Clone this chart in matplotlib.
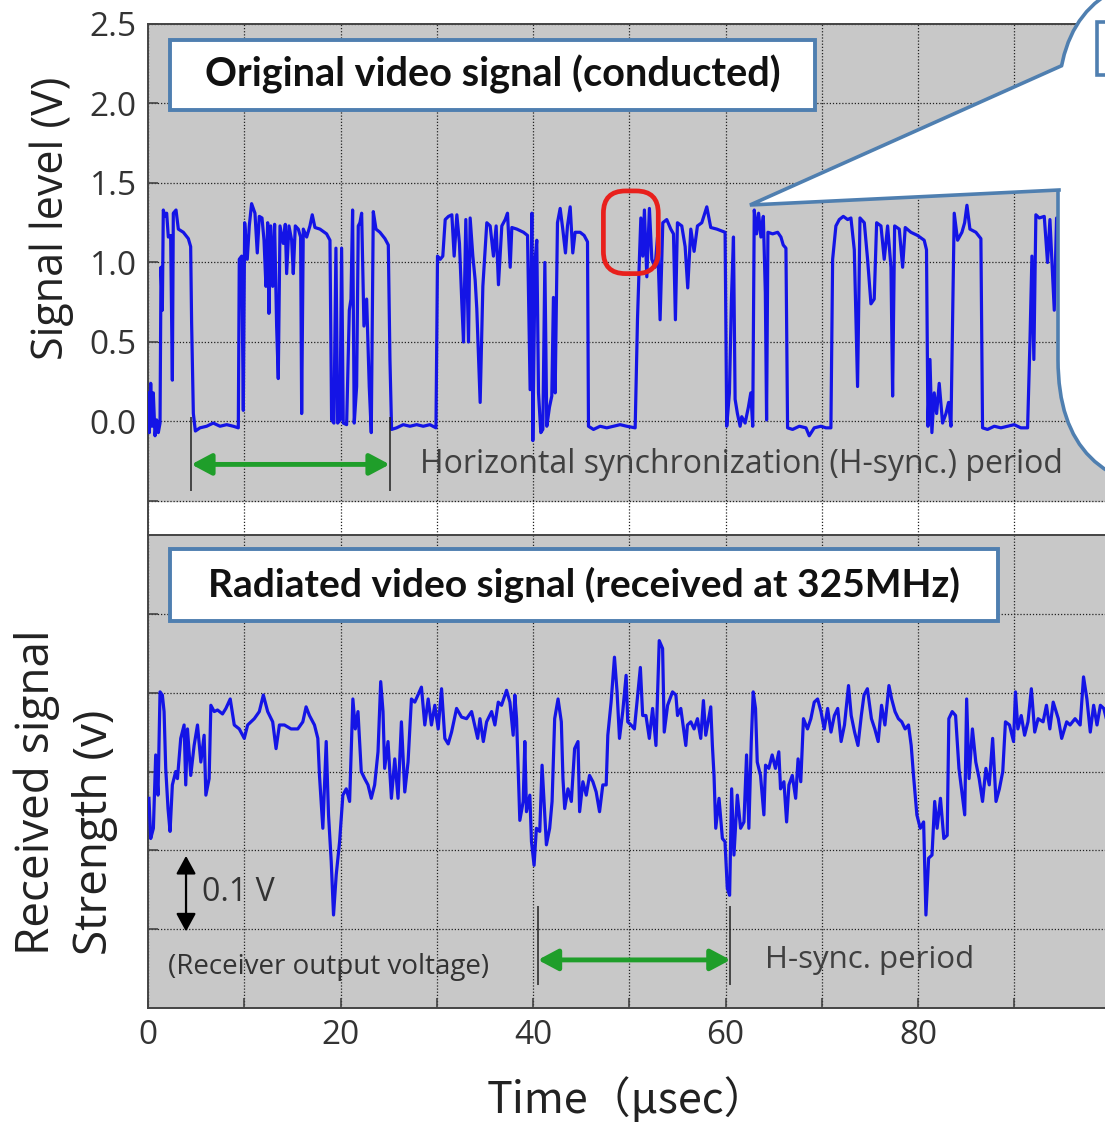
"""Conducted vs radiated video signal (H-sync period) - two stacked panels."""
import matplotlib
matplotlib.use("Agg")
import matplotlib.pyplot as plt
from matplotlib.patches import Rectangle, FancyBboxPatch, Polygon
from matplotlib.lines import Line2D

W, H = 1105, 1127

# ---- data (time in usec) ----
TOP_T = [0.03, 0.14, 0.28, 0.42, 0.55, 0.73, 0.90, 1.07, 1.25, 1.35, 1.49, 1.59, 1.77, 1.94,
         2.11, 2.35, 2.53, 2.63, 2.91, 3.15, 3.67, 4.19, 4.43, 4.53, 4.71, 4.92, 5.40, 6.09,
         6.78, 7.48, 8.17, 8.86, 9.38, 9.48, 9.73, 9.90, 10.04, 10.31, 10.52, 10.76, 11.11,
         11.35, 11.56, 11.84, 12.05, 12.25, 12.43, 12.56, 12.74, 12.95, 13.15, 13.36, 13.53,
         13.71, 14.05, 14.26, 14.40, 14.64, 14.92, 15.09, 15.30, 15.61, 15.85, 15.96, 16.13,
         16.48, 16.82, 17.06, 17.34, 17.86, 18.55, 18.90, 19.07, 19.31, 19.52, 19.70, 19.94,
         20.11, 20.28, 20.63, 20.91, 21.08, 21.25, 21.42, 21.67, 21.84, 22.01, 22.19, 22.43,
         22.71, 22.98, 23.19, 23.40, 23.68, 24.09, 24.61, 24.96, 25.13, 25.30, 25.82, 26.51,
         27.21, 27.90, 28.59, 29.28, 29.91,
         30.07, 30.35, 30.62, 30.87, 31.21, 31.56, 31.80, 32.08, 32.35, 32.60, 32.77, 33.01,
         33.29, 33.46, 33.74, 33.98, 34.15, 34.50, 34.78, 35.19, 35.54, 35.88, 36.16, 36.40,
         36.75, 37.10, 37.34, 37.62, 37.79, 38.31, 39.00, 39.42, 39.69, 39.87, 39.97, 40.21,
         40.38, 40.56, 40.80, 41.01, 41.22, 41.42, 41.70, 41.94, 42.11, 42.29, 42.53, 42.81,
         43.08, 43.36, 43.57, 43.85, 44.12, 44.36, 44.88, 45.30, 45.65, 45.75, 46.27, 46.96,
         47.65, 48.35, 49.04, 49.73, 50.60, 50.84, 51.05, 51.19, 51.39, 51.56, 51.81, 52.08,
         52.33, 52.67, 52.92, 53.19, 53.47, 53.88, 54.30, 54.58, 54.78, 54.99, 55.44, 55.79,
         56.06, 56.38, 56.72, 57.07, 57.52, 58.04, 58.45, 59.08, 59.94, 60.11, 60.39, 60.60,
         60.81, 60.98, 61.22, 61.50, 61.67, 62.02, 62.36, 62.61, 62.81,
         62.97, 63.21, 63.42, 63.66, 63.91, 64.12, 64.25, 64.39, 64.88, 65.40, 65.74, 65.98,
         66.26, 66.43, 66.95, 67.65, 68.34, 68.68, 69.20, 69.90, 70.42, 70.93, 71.11, 71.45,
         71.80, 72.22, 72.67, 73.01, 73.36, 73.70, 73.95, 74.40, 74.74, 75.09, 75.43, 75.68,
         76.13, 76.47, 76.82, 77.17, 77.34, 77.55, 78.03, 78.38, 78.65, 79.24, 79.93, 80.62,
         80.86, 81.01, 81.22, 81.42, 81.66, 81.91, 82.18, 82.53, 82.88, 83.15, 83.40, 83.74,
         84.09, 84.54, 84.82, 85.06, 85.37, 85.99, 86.51, 86.68, 87.20, 87.90, 88.59, 89.28,
         89.97, 90.66, 91.36, 91.60, 91.81, 92.01, 92.22, 92.57, 93.09, 93.43, 93.68, 94.13,
         94.37, 94.72, 95.06, 95.51]
TOP_V = [0.18, -0.07, 0.24, -0.03, 0.18, -0.09, 0.01, -0.07, -0.01, 0.97, 0.70, 1.33, 1.29, 1.31,
         1.16, 1.17, 0.26, 1.31, 1.33, 1.21, 1.19, 1.15, 1.10, 0.62, 0.05, -0.06, -0.04, -0.03,
         -0.01, -0.03, -0.02, -0.03, -0.04, 1.02, 1.04, 0.07, 1.25, 1.02, 1.23, 1.37, 1.31,
         1.06, 1.29, 1.28, 1.14, 0.85, 1.25, 0.68, 1.23, 0.85, 1.24, 0.60, 0.27,
         1.23, 1.12, 1.24, 0.93, 1.23, 1.14, 0.93, 1.23, 1.21, 1.16, 0.05, 1.21,
         1.16, 1.23, 1.30, 1.22, 1.21, 1.18, 1.14, 0.01, -0.01, 1.09, -0.01, 0.01,
         1.09, -0.01, -0.02, 0.70, 0.77, 1.33, -0.01, 0.22, 1.23, 1.25, 1.31, 0.60,
         0.77, 0.22, -0.07, 1.32, 1.21, 1.19, 1.15, 1.11, 0.39, -0.05, -0.04, -0.02,
         -0.03, -0.02, -0.03, -0.02, -0.04,
         1.04, 1.02, 1.04, 1.27, 1.29, 1.30, 1.04, 1.30, 1.12, 0.74, 0.50, 1.27,
         0.50, 1.28, 1.04, 0.89, 0.71, 0.12, 0.85, 1.25, 1.23, 1.04, 1.23, 0.86,
         1.23, 1.27, 1.31, 0.97, 1.22, 1.21, 1.19, 1.17, 0.20, 1.31, -0.12, 1.02,
         1.14, 0.18, -0.07, -0.05, 1.00, -0.03, 0.09, 0.16, 0.78, 0.18, 1.25, 1.34,
         1.21, 1.06, 1.23, 1.35, 1.06, 1.19, 1.19, 1.17, 1.13, -0.03, -0.05, -0.03,
         -0.04, -0.03, -0.02, -0.03, -0.04, 0.64, 1.04, 1.28, 1.04, 1.33, 0.91, 1.34,
         1.02, 0.97, 1.16, 0.64, 1.25, 1.27, 1.21, 1.18, 0.64, 1.25, 1.23, 1.10,
         0.84, 1.21, 1.07, 1.23, 1.25, 1.35, 1.22, 1.21, 1.19, -0.03, 0.18, 0.77,
         1.16, 0.14, 0.05, -0.03, 0.03, -0.01, 0.09, 0.18, -0.03,
         1.33, 1.18, 1.31, 1.16, 1.29, 0.81, 0.01, 1.19, 1.18, 1.19, 1.16, 1.11,
         1.09, -0.04, -0.05, -0.03, -0.04, -0.09, -0.04, -0.03, -0.04, -0.04, 1.02, 1.23,
         1.27, 1.29, 1.27, 1.28, 1.08, 0.22, 1.28, 1.25, 1.02, 0.74, 0.77, 1.25,
         1.23, 1.02, 1.23, 0.97, 0.16, 1.23, 1.21, 0.97, 1.22, 1.19, 1.17, 1.14,
         1.08, -0.03, 0.39, -0.07, 0.18, 0.05, 0.24, -0.01, 0.05, 0.12, -0.03, 1.31,
         1.14, 1.19, 1.25, 1.36, 1.21, 1.19, 1.15, -0.04, -0.05, -0.03, -0.04, -0.03,
         -0.02, -0.04, -0.04, 0.49, 1.04, 0.39, 1.30, 1.28, 1.29, 1.00, 1.27, 0.70,
         1.28, 1.16, 0.81, 0.28]

BOT_T = [0.10, 0.28, 0.56, 0.80, 1.04, 1.25, 1.49, 1.67, 1.84, 2.08, 2.29, 2.53, 2.88, 3.06,
         3.40, 3.75, 3.92, 4.10, 4.44, 4.79, 5.14, 5.49, 5.83, 6.01, 6.35, 6.53, 6.88, 7.22,
         7.74, 8.09, 8.54, 8.96, 9.48, 10.00, 10.35, 11.04, 11.56, 11.98, 12.43, 12.95, 13.30,
         13.65, 14.17, 14.86, 15.56, 16.08, 16.42, 16.77, 17.29, 17.64, 17.81, 18.16, 18.51,
         18.75, 19.03, 19.27, 19.55, 19.90, 20.24, 20.59, 20.94, 21.28, 21.53, 21.81, 22.15,
         22.50, 22.85, 23.19, 23.54, 23.89, 24.17, 24.41, 24.58, 24.93, 25.28, 25.63, 25.97,
         26.32, 26.67, 27.01, 27.36, 27.71, 28.40, 28.75, 29.10, 29.44, 29.79, 30.14, 30.49,
         30.83, 31.18, 31.53, 32.05, 32.57, 33.09, 33.61,
         34.24, 34.48, 34.83, 35.17, 35.69, 36.03, 36.38, 36.72, 37.24, 37.59, 37.93, 38.10,
         38.28, 38.45, 38.62, 38.97, 39.14, 39.31, 39.66, 39.83, 40.10, 40.34, 40.69, 40.93,
         41.21, 41.38, 41.72, 41.97, 42.24, 42.59, 42.93, 43.10, 43.28, 43.62, 43.97, 44.31,
         44.66, 44.83, 45.17, 45.52, 45.86, 46.21, 46.55, 46.90, 47.24, 47.59, 47.76, 48.10,
         48.45, 48.72, 48.97, 49.31, 49.66, 49.83, 50.17, 50.52, 50.86, 51.14, 51.38, 51.72,
         52.07, 52.41, 52.76, 53.10, 53.45, 53.62, 53.97, 54.48, 54.83, 55.00, 55.34, 55.86,
         56.03, 56.38, 56.72, 57.07, 57.41, 57.69, 57.93, 58.45, 58.62, 58.79, 58.97, 59.31,
         59.66, 59.93, 60.17, 60.41, 60.62, 60.86, 61.21, 61.55, 61.90, 62.17, 62.41, 62.66,
         62.86, 63.10, 63.28, 63.62, 63.97, 64.14, 64.48, 64.83, 65.17, 65.52,
         65.70, 66.05, 66.33, 66.57, 66.92, 67.27, 67.52, 67.80, 68.08, 68.50, 68.85, 69.20,
         69.55, 69.90, 70.24, 70.59, 70.94, 71.29, 71.64, 71.99, 72.34, 72.76, 73.04, 73.39,
         73.74, 74.09, 74.37, 74.72, 75.14, 75.49, 75.84, 76.19, 76.54, 76.96, 77.24, 77.59,
         77.94, 78.29, 78.64, 78.99, 79.27, 79.51, 79.86, 80.21, 80.56, 80.80, 81.08, 81.43,
         81.71, 81.96, 82.31, 82.66, 83.01, 83.18, 83.53, 83.88, 84.23, 84.58, 84.83, 85.03,
         85.28, 85.63, 85.98, 86.33, 86.68, 87.03, 87.38, 87.73, 88.08, 88.43, 88.78, 89.06,
         89.48, 89.90, 90.10, 90.35, 90.70, 91.05, 91.40, 91.75, 92.10, 92.45, 92.97, 93.32,
         93.67, 94.02, 94.55, 94.90, 95.42, 95.77, 96.29, 96.82, 97.17, 97.52, 97.87, 98.22,
         98.57, 98.92, 99.27, 99.62]
BOT_V = [0.266, 0.215, 0.228, 0.321, 0.270, 0.401, 0.397, 0.376, 0.304, 0.253, 0.224, 0.283,
         0.300, 0.291, 0.342, 0.359, 0.283, 0.354, 0.295, 0.333, 0.359, 0.312, 0.346, 0.270,
         0.291, 0.384, 0.376, 0.378, 0.373, 0.380, 0.392, 0.359, 0.354, 0.342, 0.359, 0.367,
         0.376, 0.397, 0.376, 0.363, 0.329, 0.359, 0.359, 0.354, 0.354, 0.363, 0.382, 0.371,
         0.359, 0.342, 0.295, 0.228, 0.338, 0.245, 0.186, 0.118, 0.169, 0.211, 0.270, 0.278,
         0.262, 0.392, 0.354, 0.376, 0.300, 0.291, 0.283, 0.266, 0.283, 0.325, 0.414, 0.376,
         0.304, 0.338, 0.266, 0.316, 0.266, 0.363, 0.274, 0.312, 0.392, 0.388, 0.407, 0.359,
         0.392, 0.359, 0.384, 0.354, 0.405, 0.342, 0.335, 0.350, 0.380, 0.369, 0.367, 0.376,
         0.342, 0.367, 0.338, 0.363, 0.376, 0.359, 0.388, 0.384, 0.403, 0.388, 0.346, 0.397,
         0.367, 0.304, 0.238, 0.262, 0.338, 0.249, 0.270, 0.211, 0.181, 0.228, 0.224, 0.308,
         0.245, 0.207, 0.228, 0.262, 0.367, 0.392, 0.363, 0.291, 0.253, 0.278, 0.262, 0.329,
         0.338, 0.249, 0.287, 0.270, 0.295, 0.287, 0.274, 0.249, 0.283, 0.283, 0.346, 0.388,
         0.445, 0.401, 0.342, 0.376, 0.422, 0.363, 0.359, 0.354, 0.397, 0.432, 0.371, 0.371,
         0.342, 0.380, 0.333, 0.466, 0.456, 0.350, 0.384, 0.401, 0.397, 0.371, 0.380, 0.333,
         0.359, 0.363, 0.354, 0.367, 0.342, 0.390, 0.346, 0.382, 0.333, 0.295, 0.228, 0.266,
         0.215, 0.211, 0.152, 0.143, 0.278, 0.194, 0.270, 0.228, 0.236, 0.321, 0.228, 0.338,
         0.401, 0.380, 0.312, 0.295, 0.245, 0.308, 0.304, 0.321, 0.304, 0.325,
         0.278, 0.287, 0.236, 0.283, 0.295, 0.266, 0.316, 0.287, 0.367, 0.354, 0.367, 0.388,
         0.392, 0.376, 0.354, 0.380, 0.350, 0.371, 0.380, 0.338, 0.359, 0.409, 0.371, 0.350,
         0.333, 0.371, 0.397, 0.405, 0.367, 0.354, 0.338, 0.384, 0.359, 0.409, 0.392, 0.376,
         0.367, 0.363, 0.354, 0.359, 0.333, 0.295, 0.245, 0.228, 0.236, 0.118, 0.190, 0.194,
         0.262, 0.228, 0.266, 0.215, 0.219, 0.367, 0.376, 0.371, 0.304, 0.270, 0.245, 0.392,
         0.291, 0.354, 0.312, 0.291, 0.262, 0.304, 0.283, 0.342, 0.262, 0.278, 0.300, 0.363,
         0.359, 0.338, 0.401, 0.354, 0.371, 0.346, 0.363, 0.405, 0.350, 0.367, 0.363, 0.384,
         0.354, 0.388, 0.367, 0.342, 0.363, 0.359, 0.367, 0.359, 0.420, 0.392, 0.350, 0.384,
         0.359, 0.384, 0.380, 0.363]

X_MAX = 99.4
GRID_X = list(range(0, 100, 10))
XTICK_LABELS = ["0", "", "20", "", "40", "", "60", "", "80", ""]
TOP_YTICKS = [-0.5, 0.0, 0.5, 1.0, 1.5, 2.0, 2.5]
TOP_YLABELS = ["", "0.0", "0.5", "1.0", "1.5", "2.0", "2.5"]
BOT_YTICKS = [0.1, 0.2, 0.3, 0.4, 0.5]
HSYNC_TOP = [4.5, 25.1]
HSYNC_BOT = [40.5, 60.5]

GRAY = "#c8c8c8"
BLUE = "#1414e6"
GREEN = "#1f9e2a"
BOXBLUE = "#4f7fb0"
TXT = "#333333"
SANS = ["Open Sans", "DejaVu Sans"]
BOLD = ["Lato", "DejaVu Sans"]


def px(x, y):
    """reference pixel -> inches (for fig.dpi_scale_trans)"""
    return (x / 100.0, (H - y) / 100.0)


def style_axes(ax):
    ax.set_xlim(0, X_MAX)
    ax.set_xticks(GRID_X)
    ax.set_axisbelow(True)
    ax.grid(True, color="#222222", linestyle=(0, (1, 1.5)), linewidth=0.9)
    ax.tick_params(direction="in", length=7, width=1.2, color="#444444",
                   labelsize=24, labelcolor=TXT, pad=8)
    for s in ax.spines.values():
        s.set_color("#444444")
        s.set_linewidth(1.4)
    ax.spines["right"].set_visible(False)
    for lab in ax.get_xticklabels() + ax.get_yticklabels():
        lab.set_fontfamily(SANS)


def title_box(ax, x0, x1, y0, y1, text, size):
    ax.add_patch(Rectangle((x0, y0), x1 - x0, y1 - y0, facecolor="white",
                           edgecolor=BOXBLUE, linewidth=2.8, zorder=5))
    ax.text((x0 + x1) / 2, (y0 + y1) / 2, text, ha="center", va="center",
            fontsize=size, fontweight="bold", family=BOLD, color="#111111", zorder=6)


fig = plt.figure(figsize=(W / 100, H / 100), dpi=100)

# ---- top: conducted ----
ax1 = fig.add_axes([148 / W, 1 - 535 / H, 1 - 148 / W, (535 - 24) / H])
ax1.set_facecolor("white")
ax1.axhspan(-0.5, 2.5, color=GRAY, zorder=0)
ax1.plot(TOP_T, TOP_V, color=BLUE, linewidth=2.3, zorder=3)
ax1.set_ylim(-0.714, 2.5)
ax1.set_yticks(TOP_YTICKS)
ax1.set_yticklabels(TOP_YLABELS)
style_axes(ax1)
ax1.spines["bottom"].set_visible(False)
ax1.tick_params(axis="x", length=0, labelbottom=False)

title_box(ax1, 2.3, 69.3, 1.96, 2.40, "Original video signal (conducted)", 28.5)
ax1.add_patch(FancyBboxPatch((47.3, 0.93), 5.7, 0.52,
                             boxstyle="round,pad=0,rounding_size=2.3",
                             mutation_aspect=0.0606, facecolor="none",
                             edgecolor="#e8201c", linewidth=3.4, zorder=6))
ax1.vlines(HSYNC_TOP, -0.44, 0.03, colors="#222222", linewidth=1.1, zorder=4)
ax1.annotate("", xy=(HSYNC_TOP[0], -0.27), xytext=(HSYNC_TOP[1], -0.27),
             arrowprops=dict(arrowstyle="<|-|>,head_length=0.6,head_width=0.32",
                             color=GREEN, lw=3.5, mutation_scale=20,
                             shrinkA=0, shrinkB=0), zorder=4)
ax1.text(28.2, -0.27, "Horizontal synchronization (H-sync.) period", ha="left",
         va="center", fontsize=23, family=SANS, color="#404040", zorder=4)

# ---- bottom: radiated ----
ax2 = fig.add_axes([148 / W, 1 - 1008 / H, 1 - 148 / W, (1008 - 535) / H])
ax2.set_facecolor(GRAY)
ax2.plot(BOT_T, BOT_V, color=BLUE, linewidth=2.3, zorder=3)
ax2.set_ylim(0, 0.6)
ax2.set_yticks(BOT_YTICKS)
ax2.set_yticklabels([])
style_axes(ax2)
ax2.set_xticklabels(XTICK_LABELS)
for lab in ax2.get_xticklabels():
    lab.set_fontfamily(SANS)

title_box(ax2, 2.3, 88.3, 0.491, 0.582, "Radiated video signal (received at 325MHz)", 28)
ax2.annotate("", xy=(3.95, 0.097), xytext=(3.95, 0.193),
             arrowprops=dict(arrowstyle="<|-|>,head_length=0.55,head_width=0.3",
                             color="black", lw=1.6, mutation_scale=20,
                             shrinkA=0, shrinkB=0), zorder=4)
ax2.text(5.6, 0.146, "0.1 V", ha="left", va="center", fontsize=23,
         family=SANS, color=TXT, zorder=4)
ax2.text(2.1, 0.052, "(Receiver output voltage)", ha="left", va="center",
         fontsize=20, family=SANS, color=TXT, zorder=4)
ax2.vlines(HSYNC_BOT, 0.029, 0.130, colors="#222222", linewidth=1.1, zorder=4)
ax2.annotate("", xy=(HSYNC_BOT[0], 0.061), xytext=(HSYNC_BOT[1], 0.061),
             arrowprops=dict(arrowstyle="<|-|>,head_length=0.6,head_width=0.32",
                             color=GREEN, lw=3.5, mutation_scale=20,
                             shrinkA=0, shrinkB=0), zorder=4)
ax2.text(64.1, 0.061, "H-sync. period", ha="left", va="center", fontsize=22.5,
         family=SANS, color="#404040", zorder=4)

# ---- axis labels ----
fig.text(52 / W, 1 - 218 / H, "Signal level (V)", rotation=90, ha="center",
         va="center", fontsize=31, family=SANS, color="#222222")
fig.text(66 / W, 1 - 792 / H, "Received signal\nStrength (v)", rotation=90,
         ha="center", va="center", multialignment="left", linespacing=1.35,
         fontsize=33, family=SANS, color="#222222")
fig.text(627 / W, 1 - 1100 / H, "Time（μsec）", ha="center", va="center",
         fontsize=31, family=["Noto Sans CJK JP", "DejaVu Sans"], color="#222222")

# ---- callout bubble on the right (partly off the page) ----
tr = fig.dpi_scale_trans
left, top, right, bottom, r = 1058, -25, 1500, 490, 130
bubble = FancyBboxPatch(px(left, bottom), (right - left) / 100, (bottom - top) / 100,
                        boxstyle="round,pad=0,rounding_size=%f" % (r / 100),
                        transform=tr, facecolor="white", edgecolor=BOXBLUE,
                        linewidth=2.6, zorder=10)
fig.add_artist(bubble)
tip, up, low = (750, 205), (1061, 66), (1059, 190)
fig.add_artist(Polygon([px(*tip), px(*up), px(1085, 66), px(1085, 190), px(*low)],
                       closed=True, transform=tr, facecolor="white",
                       edgecolor="none", zorder=11))
fig.add_artist(Line2D([px(*up)[0], px(*tip)[0], px(*low)[0]],
                      [px(*up)[1], px(*tip)[1], px(*low)[1]],
                      transform=tr, color=BOXBLUE, linewidth=2.6,
                      solid_joinstyle="miter", zorder=12))
fig.add_artist(Rectangle(px(1097, 75), 2.0, 0.53, transform=tr, facecolor="white",
                         edgecolor=BOXBLUE, linewidth=2.6, zorder=12))

fig.savefig("out.png", dpi=100)
